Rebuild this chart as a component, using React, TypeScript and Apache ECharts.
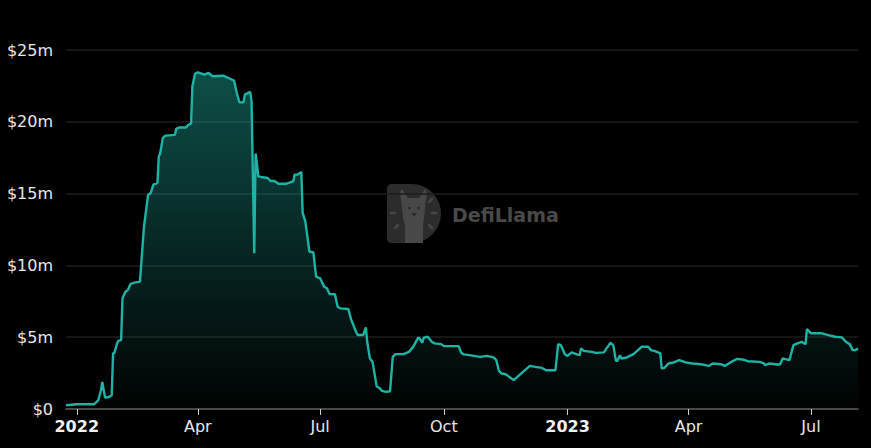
import React, { useEffect, useRef } from "react";
import * as echarts from "echarts";

const dates: string[] = [
  "2021-12-24", "2022-01-01", "2022-01-14", "2022-01-17", "2022-01-19", "2022-01-20", "2022-01-22", "2022-01-25",
  "2022-01-27", "2022-01-28", "2022-01-29", "2022-01-31", "2022-02-01", "2022-02-03", "2022-02-04", "2022-02-06",
  "2022-02-08", "2022-02-10", "2022-02-13", "2022-02-17", "2022-02-20", "2022-02-23", "2022-02-25", "2022-02-27",
  "2022-03-02", "2022-03-03", "2022-03-04", "2022-03-06", "2022-03-08", "2022-03-15", "2022-03-16", "2022-03-18",
  "2022-03-23", "2022-03-25", "2022-03-27", "2022-03-28", "2022-03-30", "2022-04-01", "2022-04-06", "2022-04-09",
  "2022-04-12", "2022-04-20", "2022-04-25", "2022-04-28", "2022-04-30", "2022-05-02", "2022-05-05", "2022-05-06",
  "2022-05-10", "2022-05-11", "2022-05-13", "2022-05-14", "2022-05-15", "2022-05-16", "2022-05-18", "2022-05-23",
  "2022-05-25", "2022-05-28", "2022-05-31", "2022-06-06", "2022-06-11", "2022-06-12", "2022-06-14", "2022-06-17",
  "2022-06-18", "2022-06-20", "2022-06-23", "2022-06-26", "2022-06-28", "2022-07-01", "2022-07-04", "2022-07-06",
  "2022-07-08", "2022-07-12", "2022-07-14", "2022-07-16", "2022-07-22", "2022-07-24", "2022-07-28", "2022-07-29",
  "2022-08-02", "2022-08-04", "2022-08-05", "2022-08-07", "2022-08-09", "2022-08-12", "2022-08-14", "2022-08-16",
  "2022-08-19", "2022-08-22", "2022-08-24", "2022-08-26", "2022-09-01", "2022-09-05", "2022-09-08", "2022-09-12",
  "2022-09-13", "2022-09-15", "2022-09-16", "2022-09-19", "2022-09-22", "2022-09-24", "2022-09-29", "2022-10-01",
  "2022-10-12", "2022-10-14", "2022-10-16", "2022-10-20", "2022-10-28", "2022-11-02", "2022-11-07", "2022-11-09",
  "2022-11-11", "2022-11-13", "2022-11-16", "2022-11-22", "2022-11-28", "2022-12-04", "2022-12-08", "2022-12-13",
  "2022-12-16", "2022-12-23", "2022-12-24", "2022-12-25", "2022-12-27", "2022-12-30", "2023-01-01", "2023-01-04",
  "2023-01-08", "2023-01-10", "2023-01-11", "2023-01-13", "2023-01-19", "2023-01-22", "2023-01-28", "2023-01-30",
  "2023-02-02", "2023-02-04", "2023-02-06", "2023-02-07", "2023-02-09", "2023-02-10", "2023-02-14", "2023-02-19",
  "2023-02-23", "2023-02-25", "2023-03-02", "2023-03-04", "2023-03-07", "2023-03-11", "2023-03-12", "2023-03-14",
  "2023-03-17", "2023-03-21", "2023-03-25", "2023-03-30", "2023-04-04", "2023-04-10", "2023-04-16", "2023-04-19",
  "2023-04-25", "2023-04-28", "2023-05-02", "2023-05-07", "2023-05-11", "2023-05-15", "2023-05-24", "2023-05-27",
  "2023-05-28", "2023-05-31", "2023-06-06", "2023-06-08", "2023-06-10", "2023-06-12", "2023-06-15", "2023-06-18",
  "2023-06-21", "2023-06-24", "2023-06-27", "2023-06-28", "2023-07-01", "2023-07-09", "2023-07-14", "2023-07-19",
  "2023-07-24", "2023-07-27", "2023-07-30", "2023-08-01", "2023-08-03", "2023-08-05",
];

// TVL in millions of USD
const tvl: number[] = [
  0.26, 0.33, 0.33, 0.61, 1.31, 1.89, 0.8, 0.84,
  0.96, 3.87, 3.91, 4.57, 4.75, 4.8, 7.71, 8.13,
  8.29, 8.71, 8.8, 8.87, 12.7, 14.9, 15.04, 15.62,
  15.74, 17.6, 17.77, 18.88, 19.04, 19.09, 19.51, 19.6,
  19.6, 19.79, 19.88, 22.47, 23.35, 23.45, 23.28, 23.4,
  23.17, 23.21, 23.0, 22.87, 22.0, 21.35, 21.35, 21.89,
  22.08, 21.42, 10.85, 17.79, 17.1, 16.2, 16.16, 16.09,
  15.88, 15.88, 15.69, 15.69, 15.85, 16.32, 16.32, 16.51,
  13.65, 13.06, 10.97, 10.9, 9.22, 9.1, 8.52, 8.41,
  8.01, 7.99, 7.12, 7.01, 6.96, 6.24, 5.31, 5.15,
  5.15, 5.69, 4.68, 3.52, 3.28, 1.59, 1.47, 1.26,
  1.19, 1.24, 3.63, 3.82, 3.82, 3.98, 4.29, 4.99,
  4.92, 4.61, 4.96, 5.03, 4.68, 4.57, 4.52, 4.38,
  4.38, 3.91, 3.8, 3.75, 3.63, 3.7, 3.59, 3.4,
  2.65, 2.47, 2.42, 2.01, 2.52, 3.0, 2.93, 2.86,
  2.7, 2.7, 3.59, 4.52, 4.45, 3.82, 3.7, 3.94,
  3.8, 3.75, 4.22, 4.05, 3.98, 3.91, 3.94, 4.22,
  4.61, 4.45, 3.35, 3.35, 3.75, 3.52, 3.59, 3.82,
  4.15, 4.33, 4.33, 4.1, 4.03, 3.87, 2.82, 2.86,
  3.17, 3.24, 3.4, 3.24, 3.17, 3.12, 3.0, 3.17,
  3.12, 3.0, 3.24, 3.49, 3.45, 3.33, 3.28, 3.17,
  3.05, 3.17, 3.1, 3.1, 3.52, 3.47, 3.4, 4.45,
  4.57, 4.68, 4.52, 5.57, 5.27, 5.27, 5.15, 5.03,
  4.99, 4.68, 4.5, 4.1, 4.1, 4.22,
];

const xTickDates: string[] = [
  "2022-01-01", "2022-04-01", "2022-07-01", "2022-10-01", "2023-01-01", "2023-04-01", "2023-07-01",
];
const monthNames: string[] = ["Jan", "Feb", "Mar", "Apr", "May", "Jun", "Jul", "Aug", "Sep", "Oct", "Nov", "Dec"];

const yTicks: number[] = [0, 5, 10, 15, 20, 25];

const D_PATH = "M5 0 L25 0 A29 29.5 0 0 1 25 59 L5 59 Q0 59 0 54 L0 5 Q0 0 5 0 Z";
const LLAMA_PATH =
  "M18 59 L18 42 L16 34 L15 24 L14 16 L13 8 L15 5 L19 11 L21 14 L32 14 L34 11 L38 5 L40 8 L39 16 L38 24 L37 34 L36 42 L36 59 Z";

echarts.graphic.registerShape("dlogo", echarts.graphic.extendPath(D_PATH, {}) as any);
echarts.graphic.registerShape("llama", echarts.graphic.extendPath(LLAMA_PATH, {}) as any);

function toTs(s: string): number {
  const [y, m, d] = s.split("-").map(Number);
  return new Date(y, m - 1, d).getTime();
}

export default function App() {
  const ref = useRef<HTMLDivElement>(null);

  useEffect(() => {
    document.body.style.margin = "0";
    document.body.style.background = "#000";
    if (!ref.current) return;
    const chart = echarts.init(ref.current, null, { renderer: "svg" });
    const font = "DejaVu Sans";
    const lineColor = "#1fb3a5";
    const tickVals = xTickDates.map(toTs);
    const xs = dates.map(toTs);
    const seriesData = xs.map((x, i) => [x, tvl[i]]);

    const dashStyle = { stroke: "#474747", lineWidth: 2.5, lineCap: "round" };

    chart.setOption({
      animation: false,
      backgroundColor: "#000",
      grid: { left: 66, right: 13, top: 50, bottom: 39 },
      xAxis: {
        type: "value",
        min: xs[0],
        max: xs[xs.length - 1],
        axisLine: { show: true, lineStyle: { color: "#5a5a5a", width: 1.5 } },
        axisTick: { show: true, customValues: tickVals, length: 6, lineStyle: { color: "#cfcfcf" } },
        splitLine: { show: false },
        axisLabel: {
          customValues: tickVals,
          color: "#e8e8e8",
          fontFamily: font,
          fontSize: 16,
          margin: 9,
          formatter: (v: number) => {
            const d = new Date(v);
            if (d.getMonth() === 0) return "{y|" + d.getFullYear() + "}";
            return monthNames[d.getMonth()];
          },
          rich: {
            y: { fontWeight: "bold", fontFamily: font, fontSize: 16, color: "#f2f2f2" },
          },
        },
      },
      yAxis: {
        type: "value",
        min: yTicks[0],
        max: yTicks[yTicks.length - 1],
        interval: yTicks[1] - yTicks[0],
        axisLine: { show: false },
        axisTick: { show: false },
        splitLine: { lineStyle: { color: "#1c1c1c", width: 1.5 } },
        axisLabel: {
          color: "#e8e8e8",
          fontFamily: font,
          fontSize: 16,
          margin: 13,
          formatter: (v: number) => (v === 0 ? "$0" : "$" + v + "m"),
        },
      },
      graphic: [
        {
          type: "group",
          left: 387,
          top: 184,
          z: 0,
          children: [
            { type: "dlogo", x: 0, y: 0, style: { fill: "#2c2c2c" } },
            { type: "llama", x: 0, y: 0, style: { fill: "#484848" } },
            { type: "circle", shape: { cx: 22.5, cy: 24, r: 1.3 }, style: { fill: "#2c2c2c" } },
            { type: "circle", shape: { cx: 31.5, cy: 24, r: 1.3 }, style: { fill: "#2c2c2c" } },
            { type: "polygon", shape: { points: [[24.5, 29], [29.5, 29], [27, 33]] }, style: { fill: "#2c2c2c" } },
            { type: "line", shape: { x1: 4, y1: 29, x2: 8, y2: 29 }, style: dashStyle },
            { type: "line", shape: { x1: 8, y1: 44, x2: 11, y2: 41 }, style: dashStyle },
            { type: "line", shape: { x1: 42, y1: 18, x2: 45, y2: 15 }, style: dashStyle },
            { type: "line", shape: { x1: 45, y1: 29, x2: 49, y2: 29 }, style: dashStyle },
            { type: "line", shape: { x1: 42, y1: 41, x2: 45, y2: 44 }, style: dashStyle },
            {
              type: "text",
              x: 65,
              y: 31,
              style: {
                text: "DefiLlama",
                fill: "#4a4a4a",
                font: "bold 19px 'DejaVu Sans'",
                verticalAlign: "middle",
              },
            },
          ],
        },
      ],
      series: [
        {
          type: "line",
          data: seriesData,
          showSymbol: false,
          symbol: "none",
          z: 3,
          lineStyle: { color: lineColor, width: 2.4 },
          itemStyle: { color: lineColor },
          areaStyle: {
            color: new echarts.graphic.LinearGradient(0, 0, 0, 1, [
              { offset: 0, color: "rgba(31,179,165,0.62)" },
              { offset: 1, color: "rgba(31,179,165,0.02)" },
            ]),
          },
        },
      ],
    });
    return () => chart.dispose();
  }, []);

  return <div ref={ref} style={{ width: 871, height: 448 }} />;
}
